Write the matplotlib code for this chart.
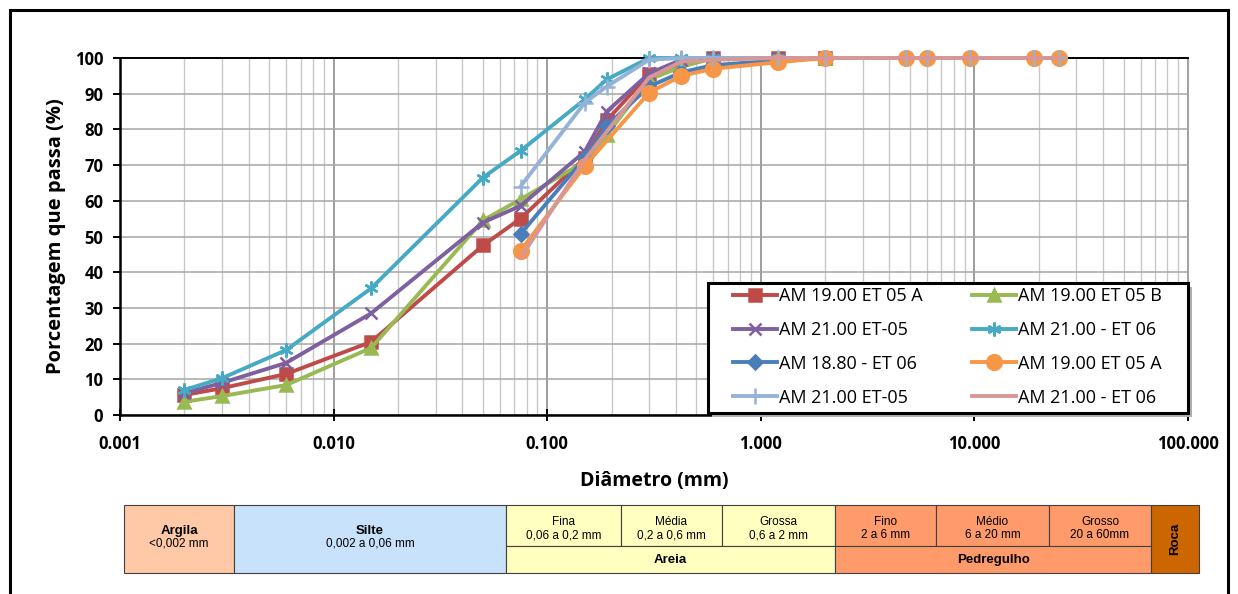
import matplotlib.pyplot as plt
from matplotlib.patches import Rectangle
from matplotlib.ticker import FixedLocator, LogLocator, NullFormatter, FuncFormatter

# Curvas granulométricas: diâmetro (mm) x porcentagem que passa (%)
d_1900a = [0.002, 0.003, 0.006, 0.015, 0.05, 0.075, 0.15, 0.19, 0.3, 0.6, 1.2, 2.0]
p_1900a = [5.6, 7.5, 11.5, 20.5, 47.5, 55.0, 72.0, 82.5, 95.5, 100, 100, 100]

d_1900b = [0.002, 0.003, 0.006, 0.015, 0.05, 0.075, 0.15, 0.19, 0.3, 0.425, 0.6, 1.2, 2.0]
p_1900b = [3.7, 5.3, 8.4, 18.8, 54.5, 60.4, 71.0, 78.5, 94.0, 97.5, 100, 100, 100]

d_2100_05 = [0.002, 0.003, 0.006, 0.015, 0.05, 0.075, 0.15, 0.19, 0.3, 0.425, 0.6, 1.2, 2.0]
p_2100_05 = [6.1, 9.0, 14.6, 28.5, 53.9, 58.6, 73.8, 85.0, 95.7, 99.5, 100, 100, 100]

d_2100_06 = [0.002, 0.003, 0.006, 0.015, 0.05, 0.075, 0.15, 0.19, 0.3, 0.425, 0.6, 1.2, 2.0]
p_2100_06 = [7.0, 10.3, 18.2, 35.5, 66.5, 74.0, 88.4, 94.0, 100, 100, 100, 100, 100]

d_1880 = [0.075, 0.15, 0.19, 0.3, 0.425, 0.6, 1.2, 2.0]
p_1880 = [50.7, 72.0, 81.0, 92.0, 96.0, 98.0, 99.3, 100]

d_1900a_2 = [0.075, 0.15, 0.3, 0.425, 0.6, 1.2, 2.0, 4.8, 6.0, 9.5, 19, 25]
p_1900a_2 = [46.0, 69.8, 90.3, 95.0, 97.0, 98.8, 100, 100, 100, 100, 100, 100]

d_2100_05b = [0.075, 0.15, 0.19, 0.3, 0.425, 0.6, 1.2, 2.0, 4.8, 6.0, 9.5, 19, 25]
p_2100_05b = [64.0, 87.5, 92.0, 99.5, 100, 100, 100, 100, 100, 100, 100, 100, 100]

d_2100_06b = [0.075, 0.15, 0.3, 0.425, 0.6, 1.2, 2.0, 4.8, 6.0, 9.5, 19, 25]
p_2100_06b = [44.0, 71.5, 94.5, 99.0, 99.5, 100, 100, 100, 100, 100, 100, 100]

x_ticks = [0.001, 0.01, 0.1, 1, 10, 100]
y_ticks = list(range(0, 101, 10))

# Escala de classificação (ABNT)
classes_top = ['Fina', 'Média', 'Grossa', 'Fino', 'Médio', 'Grosso']
ranges_top = ['0,06 a 0,2 mm', '0,2 a 0,6 mm', '0,6 a 2 mm', '2 a 6 mm', '6 a 20 mm', '20 a 60mm']
groups = ['Areia', 'Pedregulho']

W, H = 1238, 594
fig = plt.figure(figsize=(W / 100, H / 100), dpi=100)
plt.rcParams['font.family'] = ['Open Sans', 'DejaVu Sans']

# fundo: moldura e tabela de classificação em coordenadas de pixel
bg = fig.add_axes([0, 0, 1, 1], zorder=0)
bg.set_xlim(0, W)
bg.set_ylim(H, 0)
bg.axis('off')
bg.plot([10, 10, 1228, 1228], [600, 10, 10, 600], color='black', lw=2.2, solid_joinstyle='miter')

tab_font = 'Liberation Sans'
y0, ym, y1 = 505, 546, 573
edge = '#404040'
c_arg, c_sil, c_are, c_ped, c_roc = '#FFC9A8', '#C9E2FB', '#FFFFC0', '#FF9B6A', '#CC6600'
fs_b, fs_n = 9.5, 8.5

bg.add_patch(Rectangle((124, y0), 110, y1 - y0, fc=c_arg, ec=edge, lw=0.8))
bg.text(179, 537, 'Argila', ha='center', va='bottom', fontsize=fs_b, weight='bold', family=tab_font)
bg.text(179, 537, '<0,002 mm', ha='center', va='top', fontsize=fs_n, family=tab_font)

bg.add_patch(Rectangle((234, y0), 272, y1 - y0, fc=c_sil, ec=edge, lw=0.8))
bg.text(370, 537, 'Silte', ha='center', va='bottom', fontsize=fs_b, weight='bold', family=tab_font)
bg.text(370, 537, '0,002 a 0,06 mm', ha='center', va='top', fontsize=fs_n, family=tab_font)

edges_top = [506, 621, 722, 835, 936, 1049, 1151]
for i, (name, rng) in enumerate(zip(classes_top, ranges_top)):
    xa, xb = edges_top[i], edges_top[i + 1]
    fc = c_are if i < 3 else c_ped
    bg.add_patch(Rectangle((xa, y0), xb - xa, ym - y0, fc=fc, ec=edge, lw=0.8))
    bg.text((xa + xb) / 2, 528, name, ha='center', va='bottom', fontsize=fs_n, family=tab_font)
    bg.text((xa + xb) / 2, 529, rng, ha='center', va='top', fontsize=fs_n, family=tab_font)

for (xa, xb), name, fc in zip([(506, 835), (835, 1151)], groups, [c_are, c_ped]):
    bg.add_patch(Rectangle((xa, ym), xb - xa, y1 - ym, fc=fc, ec=edge, lw=0.8))
    bg.text((xa + xb) / 2, 560, name, ha='center', va='center', fontsize=fs_b, weight='bold', family=tab_font)

bg.add_patch(Rectangle((1151, y0), 48, y1 - y0, fc=c_roc, ec=edge, lw=0.8))
bg.text(1175, 539, 'Roca', ha='center', va='center', rotation=90, fontsize=fs_b, weight='bold', family=tab_font)

# gráfico principal
ax = fig.add_axes([120 / W, 1 - 415 / H, 1068 / W, 357 / H], zorder=1)
ax.set_facecolor('white')

lw, ms = 2.8, 9
series = [
    (d_1900a, p_1900a, 'AM 19.00 ET 05 A', '#BE4B48', 's', ms),
    (d_1900b, p_1900b, 'AM 19.00 ET 05 B', '#98B954', '^', ms),
    (d_2100_05, p_2100_05, 'AM 21.00 ET-05', '#7D60A0', 'x', ms),
    (d_2100_06, p_2100_06, 'AM 21.00 - ET 06', '#46AAC5', (6, 2, 0), ms + 1),
    (d_1880, p_1880, 'AM 18.80 - ET 06', '#4A7EBB', 'D', ms - 2),
    (d_1900a_2, p_1900a_2, 'AM 19.00 ET 05 A', '#F79646', 'o', ms + 1.5),
    (d_2100_05b, p_2100_05b, 'AM 21.00 ET-05', '#95B3D7', '+', ms + 2),
    (d_2100_06b, p_2100_06b, 'AM 21.00 - ET 06', '#D99694', None, ms),
]
handles = []
for d, p, label, color, marker, size in series:
    h, = ax.plot(d, p, color=color, lw=lw, marker=marker, markersize=size,
                 markeredgewidth=1.8, markeredgecolor=color, label=label, clip_on=False, zorder=3)
    handles.append(h)

ax.set_xscale('log')
ax.set_xlim(0.001, 100)
ax.set_ylim(0, 100)
ax.xaxis.set_major_locator(FixedLocator(x_ticks))
ax.xaxis.set_major_formatter(FuncFormatter(lambda v, pos: f'{v:.3f}'))
ax.xaxis.set_minor_locator(LogLocator(base=10, subs=range(2, 10)))
ax.xaxis.set_minor_formatter(NullFormatter())
ax.set_yticks(y_ticks)

ax.grid(True, which='major', axis='y', color='#A6A6A6', lw=1.1)
ax.grid(True, which='major', axis='x', color='#8C8C8C', lw=1.2)
ax.grid(True, which='minor', axis='x', color='#C8C8C8', lw=1.0)
ax.set_axisbelow(True)

for s in ['left', 'bottom']:
    ax.spines[s].set_linewidth(1.8)
ax.spines['top'].set_linewidth(1.4)
ax.spines['right'].set_color('#A6A6A6')
ax.tick_params(axis='x', which='major', direction='inout', length=9, width=1.4, pad=10)
ax.tick_params(axis='x', which='minor', length=0)
ax.tick_params(axis='y', direction='out', length=5, width=1.4, pad=7)
for t in ax.get_xticklabels() + ax.get_yticklabels():
    t.set_fontweight('bold')
    t.set_fontsize(12)

ax.set_xlabel('Diâmetro (mm)', fontsize=14, weight='bold', labelpad=13)
ax.set_ylabel('Porcentagem que passa (%)', fontsize=14.5, weight='bold', labelpad=6)

# quadro da legenda com sombra
ax.add_patch(Rectangle((712, 287), 480, 130, transform=bg.transData, fc='#B0B0B0', ec='none',
                       clip_on=False, zorder=4))
ax.add_patch(Rectangle((708, 283), 480, 130, transform=bg.transData, fc='white', ec='black',
                       lw=2.2, clip_on=False, zorder=4))

order = [0, 2, 4, 6, 1, 3, 5, 7]
leg = ax.legend([handles[i] for i in order], [handles[i].get_label() for i in order],
                ncol=2, loc='upper left', bbox_to_anchor=(733, 287), bbox_transform=bg.transData,
                fontsize=13, frameon=False, handlelength=2.45, handletextpad=0.08,
                labelspacing=0.88, borderpad=0.0, borderaxespad=0.0, columnspacing=2.75)
leg.set_zorder(5)

fig.savefig('out.png', dpi=100)
